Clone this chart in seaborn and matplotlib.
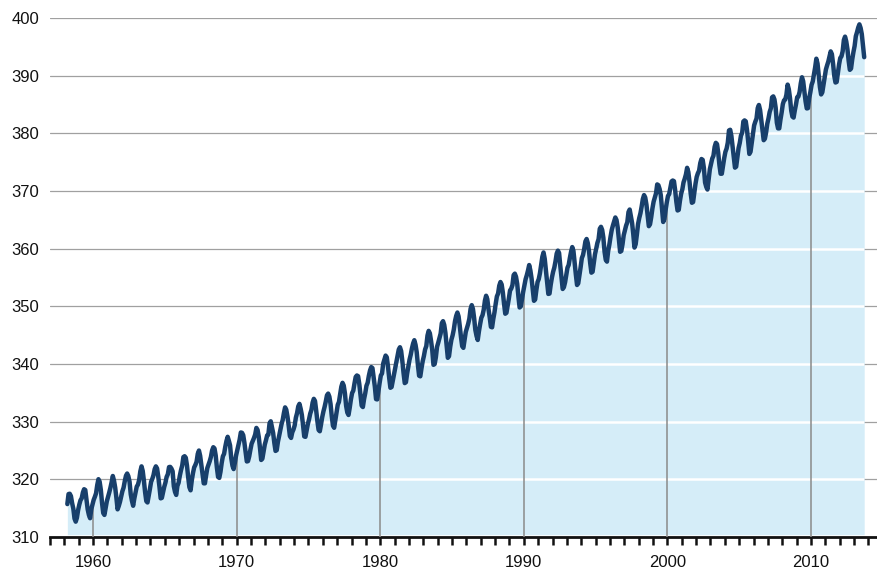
import numpy as np
import pandas as pd
import matplotlib
matplotlib.use("Agg")
import matplotlib.pyplot as plt
import seaborn as sns

# Mauna Loa monthly mean CO2 (ppm); starts March 1958
start_year = 1958
start_month = 3
co2_ppm = [
    315.71, 317.45, 317.50, 317.10, 315.86, 314.93, 313.20, 312.66, 313.33, 314.67,
    315.62, 316.38, 316.71, 317.72, 318.29, 318.15, 316.54, 314.80, 313.84, 313.26, 314.80, 315.58,
    316.43, 316.97, 317.58, 319.02, 320.03, 319.59, 318.18, 315.91, 314.16, 313.83, 315.00, 316.19,
    316.93, 317.70, 318.54, 319.48, 320.58, 319.77, 318.57, 316.79, 314.80, 315.38, 316.10, 317.01,
    317.94, 318.56, 319.68, 320.63, 321.01, 320.55, 319.58, 317.40, 316.26, 315.42, 316.69, 317.69,
    318.74, 319.08, 319.86, 321.39, 322.25, 321.47, 319.74, 317.77, 316.21, 315.99, 317.12, 318.31,
    319.57, 320.07, 320.73, 321.77, 322.25, 321.89, 320.44, 318.70, 316.70, 316.79, 317.79, 318.71,
    319.44, 320.44, 320.89, 322.13, 322.16, 321.87, 321.39, 318.80, 317.81, 317.30, 318.87, 319.42,
    320.62, 321.59, 322.39, 323.87, 324.01, 323.75, 322.39, 320.37, 318.64, 318.10, 319.79, 321.08,
    322.07, 322.50, 323.04, 324.42, 325.00, 324.09, 322.55, 320.92, 319.31, 319.31, 320.72, 321.96,
    322.57, 323.15, 323.89, 325.02, 325.57, 325.36, 324.14, 322.03, 320.41, 320.25, 321.31, 322.84,
    324.00, 324.42, 325.64, 326.66, 327.38, 326.70, 325.89, 323.67, 322.38, 321.78, 322.85, 324.11,
    325.03, 325.99, 326.87, 328.13, 328.07, 327.66, 326.35, 324.69, 323.10, 323.16, 323.98, 325.13,
    326.17, 326.68, 327.18, 327.78, 328.92, 328.57, 327.34, 325.46, 323.36, 323.57, 324.80, 326.01,
    326.77, 327.63, 327.75, 329.72, 330.07, 329.09, 328.05, 326.32, 324.93, 325.06, 326.50, 327.55,
    328.54, 329.56, 330.30, 331.50, 332.48, 332.07, 330.87, 329.31, 327.51, 327.18, 328.16, 328.64,
    329.35, 330.71, 331.48, 332.65, 333.09, 332.25, 331.18, 329.40, 327.44, 327.37, 328.46, 329.58,
    330.40, 331.40, 332.04, 333.31, 333.96, 333.59, 331.91, 330.06, 328.56, 328.34, 329.49, 330.76,
    331.75, 332.56, 333.50, 334.58, 334.87, 334.34, 333.05, 330.94, 329.30, 328.94, 330.31, 331.68,
    332.93, 333.42, 334.70, 336.07, 336.74, 336.27, 334.93, 332.75, 331.58, 331.16, 332.40, 333.85,
    334.97, 335.39, 336.64, 337.76, 338.01, 337.89, 336.54, 334.68, 332.76, 332.54, 333.92, 334.95,
    336.23, 336.76, 337.96, 338.89, 339.47, 339.29, 337.73, 336.09, 333.91, 333.86, 335.29, 336.73,
    338.01, 338.36, 340.08, 340.77, 341.46, 341.17, 339.56, 337.60, 335.88, 336.01, 337.10, 338.21,
    339.23, 340.47, 341.38, 342.51, 342.91, 342.25, 340.49, 338.43, 336.69, 336.85, 338.36, 339.61,
    340.75, 341.61, 342.70, 343.56, 344.13, 343.35, 342.06, 339.82, 337.97, 337.86, 339.26, 340.49,
    341.38, 342.52, 343.10, 344.94, 345.75, 345.32, 343.99, 342.39, 339.86, 339.99, 341.16, 342.99,
    343.70, 344.51, 345.28, 347.08, 347.43, 346.79, 345.40, 343.28, 341.07, 341.35, 342.98, 344.22,
    344.97, 345.99, 347.42, 348.35, 348.93, 348.25, 346.56, 344.67, 343.09, 342.80, 344.24, 345.56,
    346.29, 346.96, 347.86, 349.55, 350.21, 349.54, 347.94, 345.91, 344.86, 344.17, 345.66, 346.90,
    348.02, 348.47, 349.42, 350.99, 351.84, 351.25, 349.52, 348.10, 346.44, 346.36, 347.81, 348.96,
    350.43, 351.72, 352.22, 353.59, 354.22, 353.79, 352.39, 350.44, 348.72, 348.88, 350.07, 351.34,
    352.76, 353.07, 353.68, 355.42, 355.67, 355.13, 353.90, 351.67, 349.80, 349.99, 351.30, 352.53,
    353.66, 354.70, 355.39, 356.20, 357.16, 356.22, 354.82, 352.91, 350.96, 351.18, 352.83, 354.21,
    354.72, 355.75, 357.16, 358.60, 359.34, 358.24, 356.17, 354.02, 352.15, 352.21, 353.75, 354.99,
    355.99, 356.72, 357.81, 359.15, 359.66, 359.25, 357.02, 355.00, 353.01, 353.31, 354.16, 355.40,
    356.70, 357.17, 358.38, 359.46, 360.28, 359.60, 357.57, 355.52, 353.70, 353.98, 355.33, 356.80,
    358.36, 358.91, 359.97, 361.26, 361.68, 360.95, 359.55, 357.49, 355.84, 356.00, 357.58, 359.04,
    359.97, 361.00, 361.64, 363.45, 363.79, 363.26, 361.90, 359.46, 358.06, 357.75, 359.56, 360.70,
    362.05, 363.25, 364.03, 364.72, 365.41, 364.97, 363.65, 361.49, 359.46, 359.60, 360.76, 362.33,
    363.18, 364.00, 364.57, 366.35, 366.79, 365.62, 364.47, 362.51, 360.19, 360.77, 362.43, 364.28,
    365.32, 366.15, 367.31, 368.61, 369.29, 368.87, 367.64, 365.77, 363.90, 364.23, 365.46, 366.97,
    368.15, 368.87, 369.59, 371.14, 371.00, 370.35, 369.27, 366.94, 364.63, 365.12, 366.67, 368.01,
    369.14, 369.46, 370.52, 371.66, 371.82, 371.70, 370.12, 368.12, 366.62, 366.73, 368.29, 369.53,
    370.28, 371.50, 372.12, 372.87, 374.02, 373.30, 371.62, 369.55, 367.96, 368.09, 369.68, 371.24,
    372.44, 373.08, 373.52, 374.85, 375.55, 375.40, 374.02, 371.48, 370.71, 370.25, 372.08, 373.78,
    374.68, 375.63, 376.11, 377.65, 378.35, 378.13, 376.62, 374.50, 372.99, 373.00, 374.35, 375.70,
    376.79, 377.36, 378.39, 380.50, 380.62, 379.55, 377.76, 375.83, 374.05, 374.22, 375.84, 377.44,
    378.34, 379.61, 380.08, 382.05, 382.24, 382.08, 380.67, 378.67, 376.42, 376.80, 378.31, 379.96,
    381.37, 382.02, 382.56, 384.37, 384.92, 384.03, 382.28, 380.48, 378.81, 379.06, 380.14, 381.66,
    382.58, 383.71, 384.34, 386.23, 386.41, 385.87, 384.45, 381.84, 380.86, 380.86, 382.36, 383.61,
    385.07, 385.72, 385.85, 386.71, 388.45, 387.64, 386.10, 383.95, 382.91, 382.73, 383.96, 385.02,
    386.26, 386.39, 387.16, 388.67, 389.72, 389.03, 387.30, 385.54, 384.32, 384.36, 386.07, 387.13,
    388.39, 389.00, 390.20, 391.43, 392.94, 392.10, 390.13, 388.01, 386.74, 387.12, 388.45, 389.75,
    391.07, 391.79, 392.44, 393.31, 394.21, 393.73, 392.06, 389.95, 388.81, 388.91, 390.42, 391.95,
    393.07, 393.35, 394.22, 396.18, 396.77, 395.95, 394.58, 392.59, 391.01, 391.22, 392.82, 394.09,
    395.15, 396.84, 397.54, 398.34, 398.90, 398.28, 397.20, 395.15, 393.20,
]

y_ticks = [310, 320, 330, 340, 350, 360, 370, 380, 390, 400]
x_major = [1960, 1970, 1980, 1990, 2000, 2010]
x_minor = list(range(1957, 2015))

line_color = "#183f6b"
fill_color = "#d5edf8"
grid_gray = "#a0a0a0"

# decimal year at the middle of each month
month_index = np.arange(len(co2_ppm)) + (start_month - 1)
df = pd.DataFrame({
    "year": start_year + (month_index + 0.5) / 12.0,
    "co2": co2_ppm,
})

sns.set_style("white")
plt.rcParams["font.family"] = ["Liberation Sans", "DejaVu Sans"]

fig = plt.figure(figsize=(8.77, 5.73), dpi=100)
ax = fig.add_axes([0.057, 0.0628, 0.943, 0.9058])
ax.set_xlim(1957, 2014.6)
ax.set_ylim(310, 400)

# gray grid above the curve
for v in y_ticks[1:]:
    ax.axhline(v, color=grid_gray, lw=0.9, zorder=1)

poly = ax.fill_between(df["year"], 310.4, df["co2"], color=fill_color, lw=0, zorder=2)

# white grid inside the shaded area
clip = poly.get_paths()[0]
for v in y_ticks[1:]:
    ln = ax.axhline(v, color="white", lw=1.8, zorder=3)
    ln.set_clip_path(clip, ax.transData)

# decade markers up to the curve
tops = np.interp(x_major, df["year"], df["co2"])
ax.vlines(x_major, 310, tops, color="#8a8a8a", lw=1.1, zorder=4)

sns.lineplot(data=df, x="year", y="co2", ax=ax, color=line_color, lw=3.2,
             zorder=5, solid_joinstyle="round")

ax.set_xlabel("")
ax.set_ylabel("")
ax.set_xticks(x_major)
ax.set_xticks(x_minor, minor=True)
ax.set_xticklabels([str(x) for x in x_major], fontsize=12, color="#111111")
ax.set_yticks(y_ticks)
ax.set_yticklabels([str(v) for v in y_ticks], fontsize=12, color="#111111")
ax.tick_params(axis="x", which="both", direction="out", length=6, width=1.8,
               color="#111111", pad=7, bottom=True)
ax.tick_params(axis="y", length=0, pad=8)

for side in ["top", "right", "left"]:
    ax.spines[side].set_visible(False)
ax.spines["bottom"].set_linewidth(2.0)
ax.spines["bottom"].set_color("#111111")

fig.savefig("out.png", dpi=100)
